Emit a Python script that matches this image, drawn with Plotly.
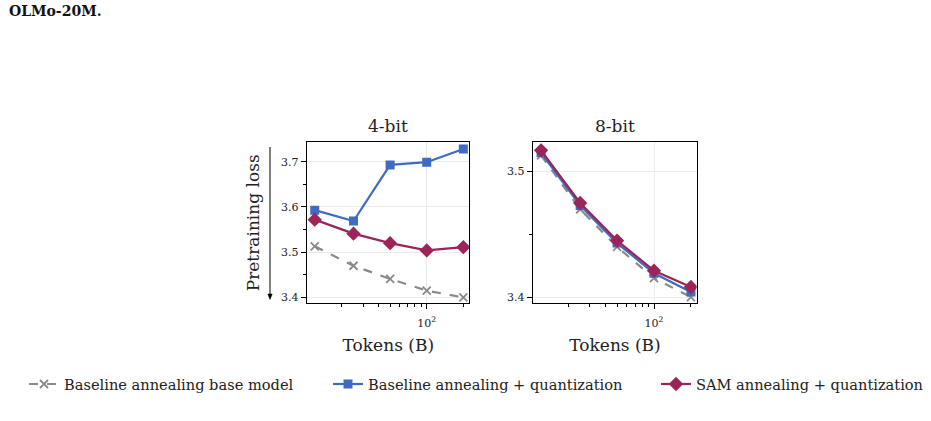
import plotly.graph_objects as go

W, H = 931, 421

tokens = [12, 25, 50, 100, 200]
bit4_base = [3.513, 3.470, 3.441, 3.415, 3.400]
bit4_baseline_q = [3.593, 3.569, 3.693, 3.699, 3.728]
bit4_sam_q = [3.572, 3.541, 3.520, 3.504, 3.511]
bit8_base = [3.513, 3.470, 3.440, 3.415, 3.400]
bit8_baseline_q = [3.515, 3.473, 3.443, 3.419, 3.404]
bit8_sam_q = [3.517, 3.475, 3.445, 3.421, 3.408]

names = ["Baseline annealing base model", "Baseline annealing + quantization", "SAM annealing + quantization"]
colors = ["#8a8a8a", "#3d6cc0", "#9c2458"]
symbols = ["x-thin", "square", "diamond"]
sizes = [8, 9, 11]
dashes = ["dash", "solid", "solid"]

FONT = "DejaVu Serif"
fig = go.Figure()

panels = [("x", "y", [bit4_base, bit4_baseline_q, bit4_sam_q]),
          ("x2", "y2", [bit8_base, bit8_baseline_q, bit8_sam_q])]
legends = ["legend", "legend2", "legend3"]
for pi, (xa, ya, series) in enumerate(panels):
    for i, vals in enumerate(series):
        fig.add_trace(go.Scatter(
            x=tokens, y=vals, xaxis=xa, yaxis=ya, mode="lines+markers",
            name=names[i], showlegend=(pi == 0), legend=legends[i],
            line=dict(color=colors[i], width=2.2, dash=dashes[i]),
            marker=dict(symbol=symbols[i], size=sizes[i], color=colors[i],
                        line=dict(color=colors[i], width=1.8 if i == 0 else 0)),
        ))

def px_x(p):
    return p / W

def px_y(p):
    return (H - p) / H

ydom = [px_y(303.3), px_y(142.3)]
minor_x = [20, 30, 40, 50, 60, 70, 80, 90, 200]
common_x = dict(type="log", tickvals=[100], ticktext=["10<sup>2</sup>"],
                ticks="outside", ticklen=5, tickwidth=1, tickcolor="black",
                ticklabelstandoff=4,
                showline=True, linecolor="black", linewidth=1.2, mirror=True,
                showgrid=True, gridcolor="#ebebeb", gridwidth=1, zeroline=False,
                tickfont=dict(family=FONT, size=11, color="#222"),
                minor=dict(tickvals=minor_x, ticks="outside", ticklen=3, tickwidth=1,
                           tickcolor="black", showgrid=False),
                title=dict(text="Tokens (B)", font=dict(family=FONT, size=17, color="#222"), standoff=10))
common_y = dict(ticks="outside", ticklen=5.5, tickwidth=1, tickcolor="black",
                showline=True, linecolor="black", linewidth=1.2, mirror=True,
                showgrid=True, gridcolor="#ebebeb", gridwidth=1, zeroline=False,
                tickfont=dict(family=FONT, size=11, color="#222"), tickformat=".1f",
                domain=ydom)

fig.update_layout(
    width=W, height=H, margin=dict(l=0, r=0, t=0, b=0),
    paper_bgcolor="white", plot_bgcolor="white",
    font=dict(family=FONT, color="#222"),
    xaxis=dict(common_x, domain=[px_x(307.3), px_x(469.3)], range=[1.018, 2.35]),
    xaxis2=dict(common_x, domain=[px_x(533.3), px_x(696.7)], range=[1.016, 2.348], anchor="y2"),
    yaxis=dict(common_y, range=[3.387, 3.743], tickvals=[3.4, 3.5, 3.6, 3.7],
               minor=dict(tickvals=[3.45, 3.55, 3.65], ticks="outside", ticklen=3,
                          tickwidth=1, tickcolor="black", showgrid=False),
               title=dict(text="Pretraining loss", font=dict(family=FONT, size=17, color="#222"), standoff=17)),
    yaxis2=dict(common_y, range=[3.395, 3.5234], tickvals=[3.4, 3.5], anchor="x2",
                minor=dict(tickvals=[3.45], ticks="outside", ticklen=3,
                           tickwidth=1, tickcolor="black", showgrid=False)),
)

leg_common = dict(orientation="h", yanchor="middle", y=px_y(384), xanchor="left",
                  bgcolor="rgba(0,0,0,0)", borderwidth=0,
                  font=dict(family=FONT, size=14.6, color="#222"))
fig.update_layout(
    legend=dict(leg_common, x=px_x(24)),
    legend2=dict(leg_common, x=px_x(328)),
    legend3=dict(leg_common, x=px_x(656)),
)

# subplot titles
for cx, txt in [((307.3 + 469.3) / 2, "4-bit"), ((533.3 + 696.7) / 2, "8-bit")]:
    fig.add_annotation(text=txt, x=px_x(cx), y=px_y(126), xref="paper", yref="paper",
                       showarrow=False, xanchor="center", yanchor="middle",
                       font=dict(family=FONT, size=17, color="#222"))

# downward arrow next to y-axis title (lower loss is better)
ax_x = 270
fig.add_shape(type="line", xref="paper", yref="paper",
              x0=px_x(ax_x), x1=px_x(ax_x), y0=px_y(147), y1=px_y(296),
              line=dict(color="black", width=1))
fig.add_shape(type="path", xref="paper", yref="paper",
              path=f"M {px_x(ax_x - 2.2)} {px_y(294)} L {px_x(ax_x + 2.2)} {px_y(294)} L {px_x(ax_x)} {px_y(299.5)} Z",
              fillcolor="black", line=dict(color="black", width=0.5))

# header text
fig.add_annotation(text="<b>OLMo-20M.</b>", x=px_x(7), y=px_y(11), xref="paper", yref="paper",
                   showarrow=False, xanchor="left", yanchor="middle",
                   font=dict(family=FONT, size=14, color="#111"))

fig.write_html("out.html")
